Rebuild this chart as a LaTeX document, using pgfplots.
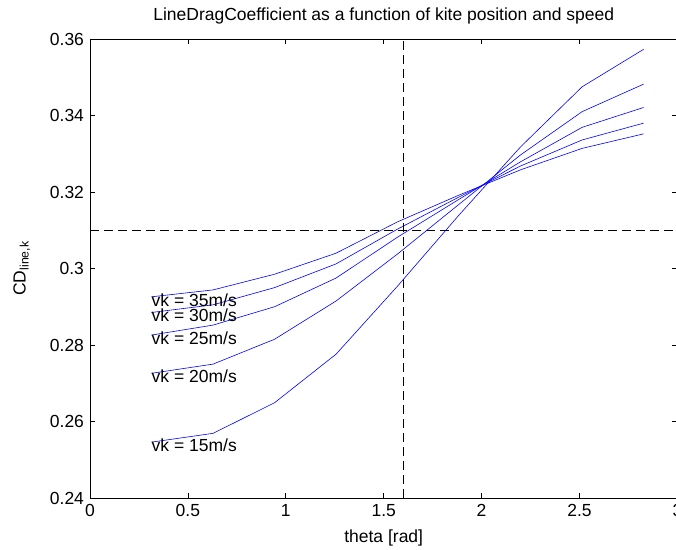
\documentclass[border=0pt]{standalone}
\usepackage{fontspec}
\setmainfont{Liberation Sans}
\usepackage{pgfplots}
\usepackage{pgfplotstable}
\pgfplotsset{compat=1.18}

% theta = k*pi/10, k = 1..9
\pgfplotstableread{
x      vk15   vk20   vk25   vk30   vk35
0.3142 0.2546 0.2726 0.2826 0.2885 0.2926
0.6283 0.2569 0.2750 0.2852 0.2905 0.2944
0.9425 0.2649 0.2815 0.2900 0.2950 0.2985
1.2566 0.2776 0.2915 0.2975 0.3012 0.3040
1.5708 0.2954 0.3038 0.3082 0.3103 0.3122
1.8850 0.3140 0.3168 0.3181 0.3187 0.3192
2.1991 0.3318 0.3297 0.3279 0.3268 0.3258
2.5133 0.3475 0.3410 0.3369 0.3336 0.3314
2.8274 0.3573 0.3482 0.3421 0.3380 0.3352
}\cdtable

\newcommand\mfont{\fontsize{17.5}{20}\selectfont}

\begin{document}
\mfont
\begin{tikzpicture}
\begin{axis}[
	scale only axis,
	width=587.4pt,
	height=459pt,
	xmin=0, xmax=3,
	ymin=0.24, ymax=0.36,
	xtick={0,0.5,...,3},
	ytick={0.24,0.26,0.28,0.3,0.32,0.34,0.36},
	/pgf/number format/assume math mode=true,
	yticklabel style={/pgf/number format/fixed,/pgf/number format/precision=2},
	scaled y ticks=false,
	tick align=inside,
	major tick length=5pt,
	tick style={black, line width=0.8pt},
	axis line style={black, line width=0.8pt},
	ticklabel style={font=\mfont},
	title={LineDragCoefficient as a function of kite position and speed},
	title style={font=\mfont, at={(axis description cs:0.5,1)}, anchor=south, yshift=3pt},
	xlabel={theta [rad]},
	ylabel={CD\textsubscript{line,k}},
	xlabel style={font=\mfont, at={(axis description cs:0.5,-0.087)}, anchor=center},
	ylabel style={font=\mfont, at={(axis description cs:-0.116,0.5)}, anchor=center},
	every axis plot/.append style={line width=0.6pt},
	clip=false,
]
\coordinate (sw) at (rel axis cs:0,0);
\coordinate (ne) at (rel axis cs:1,1);
\addplot[black, line width=1pt, dash pattern=on 9pt off 5pt] coordinates {(0,0.31) (3,0.31)};
\addplot[black, line width=1pt, dash pattern=on 9pt off 5pt] coordinates {(1.6,0.24) (1.6,0.36)};
\addplot[blue] table[x=x, y=vk15] {\cdtable};
\addplot[blue] table[x=x, y=vk20] {\cdtable};
\addplot[blue] table[x=x, y=vk25] {\cdtable};
\addplot[blue] table[x=x, y=vk30] {\cdtable};
\addplot[blue] table[x=x, y=vk35] {\cdtable};
\node[anchor=west, inner sep=0pt, yshift=-3pt] at (axis cs:0.3142,0.2546) {vk = 15m/s};
\node[anchor=west, inner sep=0pt, yshift=-3pt] at (axis cs:0.3142,0.2726) {vk = 20m/s};
\node[anchor=west, inner sep=0pt, yshift=-3pt] at (axis cs:0.3142,0.2826) {vk = 25m/s};
\node[anchor=west, inner sep=0pt, yshift=-3pt] at (axis cs:0.3142,0.2885) {vk = 30m/s};
\node[anchor=west, inner sep=0pt, yshift=-3pt] at (axis cs:0.3142,0.2926) {vk = 35m/s};
\end{axis}
\pgfresetboundingbox
\path[use as bounding box] ([xshift=-90pt,yshift=-52pt]sw) rectangle ([xshift=-1.4pt,yshift=39pt]ne);
\end{tikzpicture}
\end{document}
